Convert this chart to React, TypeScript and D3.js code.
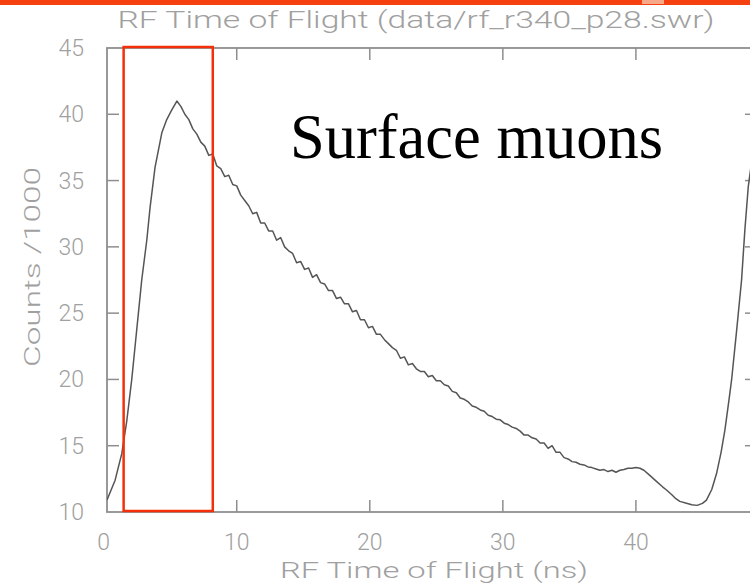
import React from "react";
import * as d3 from "d3";

// ---- data ----
const times: number[] = [
  0.25, 0.86, 1.36, 1.74, 2.11, 2.36, 2.61, 2.86, 3.24, 3.49, 3.86, 4.37, 4.74, 5.1, 5.5,
  5.8, 6.1, 6.4, 6.7, 7.0, 7.3, 7.6, 7.9, 8.2, 8.5, 8.8, 9.1, 9.4, 9.7, 10.0,
  10.3, 10.6, 10.9, 11.2, 11.5, 11.8, 12.1, 12.4, 12.7, 13.0, 13.3, 13.6, 13.9, 14.2, 14.5,
  14.8, 15.1, 15.4, 15.7, 16.0, 16.3, 16.6, 16.9, 17.2, 17.5, 17.8, 18.1, 18.4, 18.7, 19.0,
  19.3, 19.6, 19.9, 20.2, 20.5, 20.8, 21.1, 21.4, 21.7, 22.0, 22.3, 22.6, 22.9, 23.2, 23.5,
  23.8, 24.1, 24.4, 24.7, 25.0, 25.3, 25.6, 25.9, 26.2, 26.5, 26.8, 27.1, 27.4, 27.7, 28.0,
  28.3, 28.6, 28.9, 29.2, 29.5, 29.8, 30.1, 30.4, 30.7, 31.0, 31.3, 31.6, 31.9, 32.2, 32.5,
  32.8, 33.1, 33.4, 33.7, 34.0, 34.3, 34.6, 34.9, 35.2, 35.5, 35.8, 36.1, 36.4, 36.7, 37.0,
  37.3, 37.6, 37.9, 38.2, 38.5, 38.8, 39.1, 39.4, 39.7, 40.0, 40.3, 40.6, 41.0, 41.5, 42.0,
  42.3, 42.7, 43.0, 43.3, 43.8, 44.2, 44.6, 45.0, 45.3, 45.7, 46.06, 46.4, 46.69, 47.0, 47.19,
  47.57, 47.94, 48.19, 48.44, 48.72,
];
const counts: number[] = [
  10.9, 12.4, 14.4, 16.9, 20.0, 22.5, 25.0, 27.5, 30.5, 33.0, 36.0, 38.6, 39.6, 40.3, 41.0,
  40.6, 40.0, 39.6, 38.9, 38.5, 37.9, 37.6, 36.9, 37.0, 36.1, 35.9, 35.3, 35.4, 34.7, 34.6,
  33.9, 33.5, 33.1, 32.5, 32.6, 31.8, 31.8, 31.2, 31.2, 30.5, 30.7, 30.0, 29.7, 29.5, 28.8,
  28.9, 28.3, 28.4, 27.7, 27.9, 27.3, 27.2, 26.7, 26.7, 26.1, 26.2, 25.7, 25.7, 25.1, 25.2,
  24.5, 24.5, 23.9, 24.0, 23.4, 23.4, 23.0, 22.7, 22.4, 22.2, 21.6, 21.7, 21.1, 21.2, 20.8,
  20.6, 20.6, 20.2, 20.3, 19.9, 19.9, 19.6, 19.5, 19.1, 19.0, 18.6, 18.5, 18.3, 18.0, 17.9,
  17.7, 17.6, 17.3, 17.2, 17.0, 16.95, 16.7, 16.6, 16.4, 16.3, 16.1, 15.8, 15.8, 15.6, 15.5,
  15.2, 15.2, 14.8, 15.0, 14.5, 14.5, 14.1, 14.0, 13.8, 13.75, 13.6, 13.55, 13.4, 13.35, 13.25,
  13.15, 13.2, 13.05, 13.15, 13.0, 13.15, 13.2, 13.3, 13.3, 13.35, 13.3, 13.15, 12.8, 12.35, 11.9,
  11.66, 11.3, 11.0, 10.8, 10.66, 10.55, 10.5, 10.65, 10.9, 11.7, 12.9, 14.5, 16.2, 18.5, 19.96,
  23.7, 27.5, 31.3, 34.5, 36.6,
];

const xTicks: number[] = [0, 10, 20, 30, 40];
const yTicks: number[] = [10, 15, 20, 25, 30, 35, 40, 45];
const xDomain: number[] = [0.25, 49.1];
const yDomain: number[] = [10, 45];
const highlightRange: number[] = [1.5, 8.2];

const titleText = "RF Time of Flight (data/rf_r340_p28.swr)";
const xLabelText = "RF Time of Flight (ns)";
const yLabelText = "Counts  /1000";
const annotationText = "Surface muons";

export default function App() {
  const W = 750;
  const H = 584;
  const left = 107;
  const right = 757;
  const top = 48;
  const bottom = 512;

  const x = d3.scaleLinear().domain(xDomain).range([left, right]);
  const y = d3.scaleLinear().domain(yDomain).range([bottom, top]);

  const line = d3
    .line<number>()
    .x((_, i) => x(times[i]))
    .y((d) => y(d));

  const axisColor = "#8e8e8e";
  const textColor = "#a0a0a0";
  const font = "Roboto, 'DejaVu Sans', sans-serif";
  const tickLen = 12;

  return (
    <svg
      width={W}
      height={H}
      viewBox={`0 0 ${W} ${H}`}
      style={{ position: "absolute", left: 0, top: 0, background: "#fff" }}
    >
      <rect x={0} y={0} width={W} height={H} fill="#ffffff" />
      {/* top orange band */}
      <rect x={0} y={0} width={W} height={5} fill="#f4410f" />
      <rect x={642} y={0} width={22} height={4} fill="#f7a888" />

      {/* title */}
      <text
        x={(left + right) / 2 - 16}
        y={28}
        textAnchor="middle"
        fontFamily={font}
        fontWeight={300}
        fontSize={23}
        fill={textColor}
        textLength={597}
        lengthAdjust="spacingAndGlyphs"
      >
        {titleText}
      </text>

      <defs>
        <clipPath id="plotclip">
          <rect x={left} y={top - 2} width={right - left} height={bottom - top + 4} />
        </clipPath>
      </defs>

      {/* frame */}
      <rect
        x={left}
        y={top}
        width={right - left}
        height={bottom - top}
        fill="none"
        stroke={axisColor}
        strokeWidth={1.8}
      />
      {/* x ticks bottom & top */}
      {xTicks
        .filter((t) => t > xDomain[0])
        .map((t) => (
          <g key={"xt" + t}>
            <line x1={x(t)} x2={x(t)} y1={bottom} y2={bottom - tickLen} stroke={axisColor} strokeWidth={1.5} />
            <line x1={x(t)} x2={x(t)} y1={top} y2={top + tickLen} stroke={axisColor} strokeWidth={1.5} />
          </g>
        ))}
      {/* y ticks left & right */}
      {yTicks
        .filter((t) => t > yDomain[0] && t < yDomain[1])
        .map((t) => (
          <g key={"yt" + t}>
            <line x1={left} x2={left + tickLen} y1={y(t)} y2={y(t)} stroke={axisColor} strokeWidth={1.5} />
            <line x1={right} x2={right - tickLen} y1={y(t)} y2={y(t)} stroke={axisColor} strokeWidth={1.5} />
          </g>
        ))}

      {/* x tick labels */}
      {xTicks.map((t) => (
        <text
          key={"xl" + t}
          x={x(t)}
          y={550}
          textAnchor="middle"
          fontFamily={font}
          fontWeight={300}
          fontSize={23}
          fill={textColor}
        >
          {t}
        </text>
      ))}
      {/* y tick labels */}
      {yTicks.map((t) => (
        <text
          key={"yl" + t}
          x={84}
          y={y(t) + 8}
          textAnchor="end"
          fontFamily={font}
          fontWeight={300}
          fontSize={23}
          fill={textColor}
        >
          {t}
        </text>
      ))}

      {/* axis titles */}
      <text
        x={(left + right) / 2 + 2}
        y={578}
        textAnchor="middle"
        fontFamily={font}
        fontWeight={300}
        fontSize={22}
        fill={textColor}
        textLength={308}
        lengthAdjust="spacingAndGlyphs"
      >
        {xLabelText}
      </text>
      <text
        transform={`translate(40, 267) rotate(-90)`}
        textAnchor="middle"
        fontFamily={font}
        fontWeight={300}
        fontSize={22}
        fill={textColor}
        textLength={200}
        lengthAdjust="spacingAndGlyphs"
      >
        {yLabelText}
      </text>

      {/* data curve */}
      <g clipPath="url(#plotclip)">
        <path d={line(counts) || ""} fill="none" stroke="#555555" strokeWidth={1.5} strokeLinejoin="round" />
      </g>

      {/* highlight box */}
      <rect
        x={x(highlightRange[0])}
        y={y(yDomain[1]) - 1}
        width={x(highlightRange[1]) - x(highlightRange[0])}
        height={y(yDomain[0]) - y(yDomain[1])}
        fill="none"
        stroke="#f4300a"
        strokeWidth={2.5}
      />

      {/* annotation */}
      <text
        x={x(14.0)}
        y={158}
        fontFamily="'Liberation Serif', 'Times New Roman', serif"
        fontSize={62.5}
        fill="#000000"
      >
        {annotationText}
      </text>
    </svg>
  );
}
